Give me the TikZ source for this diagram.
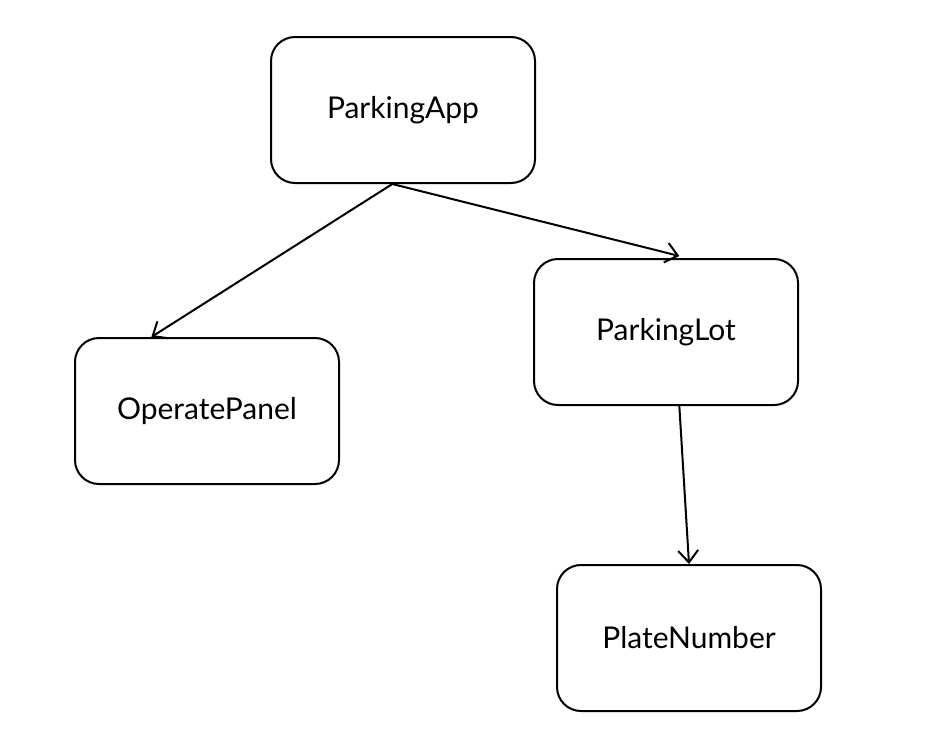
\documentclass[tikz,border=0pt]{standalone}
\usepackage{fontspec}
\setmainfont{Lato}
\usetikzlibrary{arrows.meta}
\tikzset{box/.style={draw,line width=1.5pt,rounded corners=18pt,minimum width=198pt,minimum height=109.5pt,inner sep=0pt,font=\fontsize{22.5}{26}\selectfont}}
\begin{document}
\begin{tikzpicture}[x=0.75pt,y=-0.75pt,>={Straight Barb[length=9pt,width=15pt]},line width=1.5pt]
\useasboundingbox (0,0) rectangle (928,736);

\node[box] (app) at (403,110) {ParkingApp};
\node[box] (panel) at (207,411) {OperatePanel};
\node[box] (lot) at (666,332) {ParkingLot};
\node[box] (plate) at (689,638) {PlateNumber};

\draw[->] ([xshift=-8pt]app.south) -- ([xshift=58pt]panel.north west);
\draw[->] ([xshift=-8pt]app.south) -- ([xshift=10pt,yshift=1.5pt]lot.north);
\draw[->] ([xshift=10pt]lot.south) -- (plate.north);

\end{tikzpicture}
\end{document}
